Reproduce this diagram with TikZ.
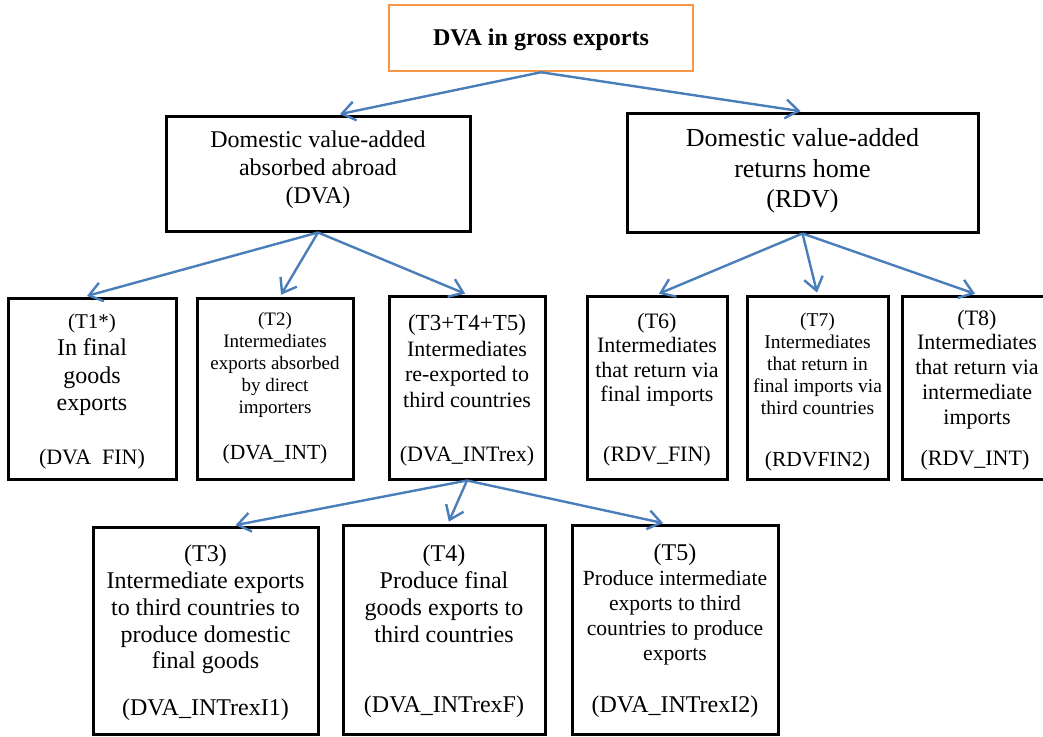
\documentclass[tikz,border=0pt]{standalone}
\usepackage{fontspec}
\setmainfont{Liberation Serif}
\usetikzlibrary{arrows.meta}

\definecolor{linkblue}{RGB}{74,126,187}
\definecolor{frameorange}{RGB}{247,150,70}

\newcommand{\setfs}[2]{\fontsize{#1}{#2}\selectfont}

\tikzset{
  box/.style={draw=black, line width=3pt, inner sep=0pt},
  body/.style={align=center, inner sep=0pt},
  link/.style={->, draw=linkblue, line width=2.4pt, shorten >=2pt,
    >={Straight Barb[length=13pt,width=19pt]}},
}

\begin{document}
\begin{tikzpicture}[x=1pt, y=-1pt]
  \useasboundingbox (0,0) rectangle (1043,736);

  % Boxes (name / centre x / centre y / width / height)
  \node[box, draw=frameorange, line width=2.5pt, minimum width=304pt, minimum height=66pt] (gross) at (541,38) {};
  \foreach \name/\cx/\cy/\w/\h in {dva/318/173.5/304/115, rdv/802.5/172.5/351/119,
      t1/92/388.5/168/181, t2/275/388.5/156/181, t345/467/387.5/156/183,
      t6/657/387.5/140/183, t7/817.5/387.5/141/183, t8/977/387.5/150/183,
      t3/205.5/630.5/225/207, t4/444/629.5/202/209, t5/675/629.5/206/209} {
    \node[box, minimum width=\w pt, minimum height=\h pt] (\name) at (\cx,\cy) {};
  }

  % Top level
  \node[body, font={\setfs{24}{28}\bfseries}] (grossT) at (541,40) {DVA in gross exports};

  % Second level
  \node[body, font={\setfs{24}{28}}] (dvaT) at (318,169.5)
    {Domestic value-added\\absorbed abroad\\(DVA)};
  \node[body, font={\setfs{26}{30.5}}] (rdvT) at (802.5,171)
    {Domestic value-added\\returns home\\(RDV)};

  % Third level, texts
  \node[body, font={\setfs{24}{27.5}}] (t1T) at (92,365)
    {{\setfs{21}{27.5}(T1*)}\\In final\\goods\\exports};
  \node[body, font={\setfs{22}{26}}] (t1L) at (92,459) {(DVA~~FIN)};

  \node[body, font={\setfs{19}{22.2}}] (t2T) at (275,365)
    {(T2)\\Intermediates\\exports absorbed\\by direct\\importers};
  \node[body, font={\setfs{21.5}{26}}] (t2L) at (275,454) {(DVA\_INT)};

  \node[body, font={\setfs{22}{25.5}}] (t345T) at (467,361)
    {{\setfs{23}{25.5}(T3+T4+T5)}\\Intermediates\\re-exported to\\third countries};
  \node[body, font={\setfs{22}{26}}] (t345L) at (467,456) {(DVA\_INTrex)};

  \node[body, font={\setfs{22}{24.5}}] (t6T) at (657,359.5)
    {(T6)\\Intermediates\\that return via\\final imports};
  \node[body, font={\setfs{22}{26}}] (t6L) at (657,456) {(RDV\_FIN)};

  \node[body, font={\setfs{19.5}{22}}] (t7T) at (817.5,364)
    {(T7)\\Intermediates\\that return in\\final imports via\\third countries};
  \node[body, font={\setfs{21.5}{26}}] (t7L) at (817.5,461) {(RDVFIN2)};

  \node[body, font={\setfs{22}{24.8}}] (t8T) at (977,369.5)
    {(T8)\\Intermediates\\that return via\\intermediate\\imports};
  \node[body, font={\setfs{22}{26}}] (t8L) at (975,460) {(RDV\_INT)};

  % Fourth level, texts
  \node[body, font={\setfs{24}{26.8}}] (t3T) at (205.5,609.5)
    {(T3)\\Intermediate exports\\to third countries to\\produce domestic\\final goods};
  \node[body, font={\setfs{24}{28}}] (t3L) at (205.5,710) {(DVA\_INTrexI1)};

  \node[body, font={\setfs{24}{27}}] (t4T) at (444,593.5)
    {(T4)\\Produce final\\goods exports to\\third countries};
  \node[body, font={\setfs{24}{28}}] (t4L) at (444,707) {(DVA\_INTrexF)};

  \node[body, font={\setfs{21.6}{25}}] (t5T) at (675,604)
    {{\setfs{24}{25}(T5)}\\Produce intermediate\\exports to third\\countries to produce\\exports};
  \node[body, font={\setfs{24}{28}}] (t5L) at (675,707) {(DVA\_INTrexI2)};

  % Arrow ends
  \coordinate (dvaIn) at ([xshift=20pt]dva.north);
  \coordinate (t1In) at ([xshift=-7pt]t1.north);
  \coordinate (t2In) at ([xshift=5pt]t2.north);
  \coordinate (t3In) at ([xshift=28pt]t3.north);
  \coordinate (t4In) at ([xshift=4pt]t4.north);
  \coordinate (t5In) at ([xshift=-10pt]t5.north);

  % Arrows
  \foreach \dest in {dvaIn, rdv.north}
    \draw[link] (gross.south) -- (\dest);
  \foreach \dest in {t1In, t2In, t345.north}
    \draw[link] (dva.south) -- (\dest);
  \foreach \dest in {t6.north, t7.north, t8.north}
    \draw[link] (rdv.south) -- (\dest);
  \foreach \dest in {t3In, t4In, t5In}
    \draw[link] (t345.south) -- (\dest);
\end{tikzpicture}
\end{document}
